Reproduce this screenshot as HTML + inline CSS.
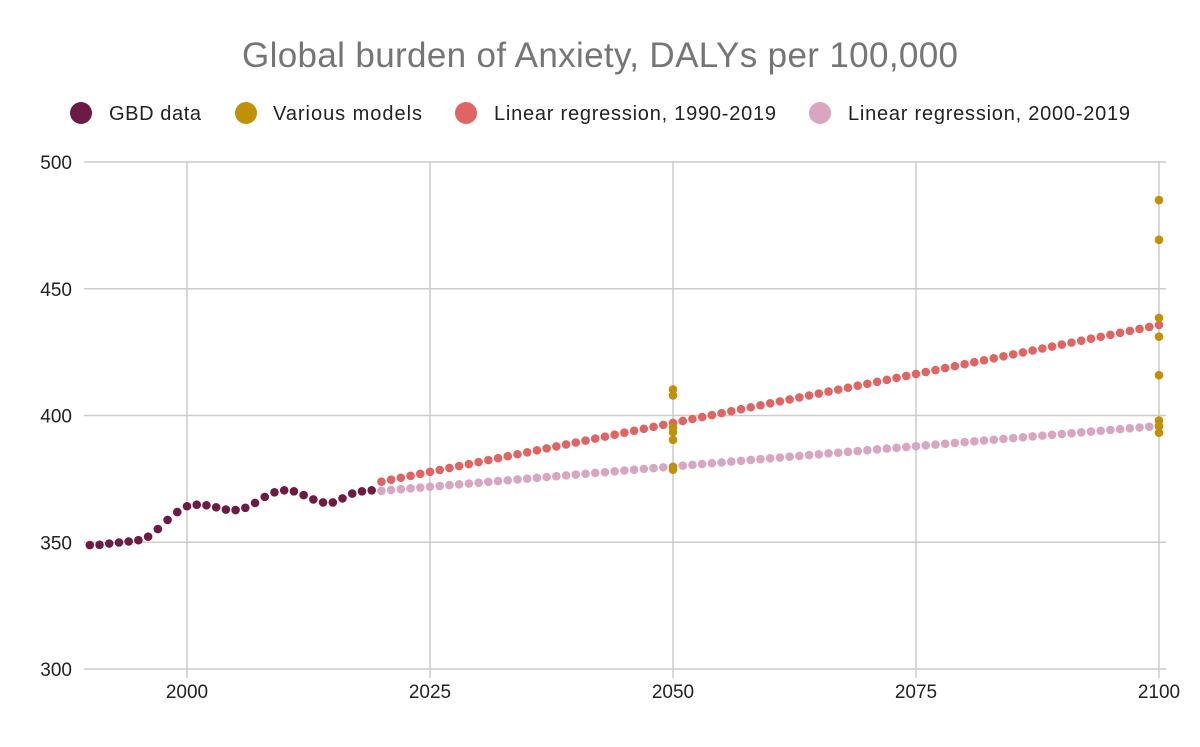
<!DOCTYPE html>
<html><head><meta charset="utf-8"><style>
body{margin:0;background:#fff;font-family:"Liberation Sans",sans-serif}
svg text{font-family:"Liberation Sans",sans-serif}
</style></head><body>
<svg id="chart" width="1200" height="742">
<text x="600" y="67" text-anchor="middle" font-size="35" fill="#757575" textLength="716">Global burden of Anxiety, DALYs per 100,000</text>
<g>
<g><circle cx="81" cy="113" r="11" fill="#6d1a45"/><text x="109" y="120" font-size="20" fill="#222" textLength="92">GBD data</text></g>
<g><circle cx="246" cy="113" r="11" fill="#c09005"/><text x="273" y="120" font-size="20" fill="#222" textLength="149">Various models</text></g>
<g><circle cx="466" cy="113" r="11" fill="#e06461"/><text x="494" y="120" font-size="20" fill="#222" textLength="282">Linear regression, 1990-2019</text></g>
<g><circle cx="820" cy="113" r="11" fill="#d8a6c1"/><text x="848" y="120" font-size="20" fill="#222" textLength="282">Linear regression, 2000-2019</text></g>
</g>
<g id="grid"></g><g id="marks"></g>
</svg>
<script>
const gbdYears=[1990,1991,1992,1993,1994,1995,1996,1997,1998,1999,2000,2001,2002,2003,2004,2005,2006,2007,2008,2009,2010,2011,2012,2013,2014,2015,2016,2017,2018,2019];
const gbdValues=[348.9,349,349.5,349.9,350.3,350.8,352.2,355.2,358.8,361.9,364.2,364.8,364.6,363.8,362.9,362.7,363.6,365.5,367.9,369.7,370.5,370.1,368.6,366.9,365.7,365.7,367.3,369.2,370.1,370.5];
const models2050=[410.3,407.9,395.2,393.4,390.4,379.6,378.6];
const models2100=[485,469.3,438.5,431.1,415.9,398,395.7,393.2];
const lr1990=[373.9,0.7725]; // value at 2020, slope per year
const lr2000=[370.3,0.32];
const xTicks=[2000,2025,2050,2075,2100];
const yTicks=[300,350,400,450,500];
const NS="http://www.w3.org/2000/svg";
const X=y=>187+(y-2000)*9.72;
const Y=v=>669-(v-300)*2.535;
function mk(p,tag,a){const e=document.createElementNS(NS,tag);for(const k in a)e.setAttribute(k,a[k]);p.appendChild(e);return e;}
const grid=document.getElementById('grid'),marks=document.getElementById('marks');
yTicks.forEach(t=>{const l=mk(grid,'line',{x1:84,x2:1166,y1:Y(t),y2:Y(t),stroke:'#cccccc','stroke-width':1.5});


const tx=mk(grid,'text',{x:72,y:Y(t)+7,'text-anchor':'end','font-size':19,fill:'#222'});tx.textContent=t;

});
xTicks.forEach(t=>{const l=mk(grid,'line',{x1:X(t),x2:X(t),y1:162,y2:678,stroke:'#cccccc','stroke-width':1.5});


const tx=mk(grid,'text',{x:X(t),y:698,'text-anchor':'middle','font-size':19,fill:'#222'});tx.textContent=t;

});
function dot(x,v,c,name){const d=mk(marks,'circle',{cx:X(x),cy:Y(v),r:4.3,fill:c});

}
for(let yr=2020;yr<=2100;yr++){dot(yr,lr2000[0]+lr2000[1]*(yr-2020),'#d8a6c1','lr2000-point');}
for(let yr=2020;yr<=2100;yr++){dot(yr,lr1990[0]+lr1990[1]*(yr-2020),'#e06461','lr1990-point');}
gbdYears.forEach((yr,i)=>dot(yr,gbdValues[i],'#6d1a45','gbd-point'));
models2050.forEach(v=>dot(2050,v,'#c09005','model-point-2050'));
models2100.forEach(v=>dot(2100,v,'#c09005','model-point-2100'));
</script>
</body></html>
